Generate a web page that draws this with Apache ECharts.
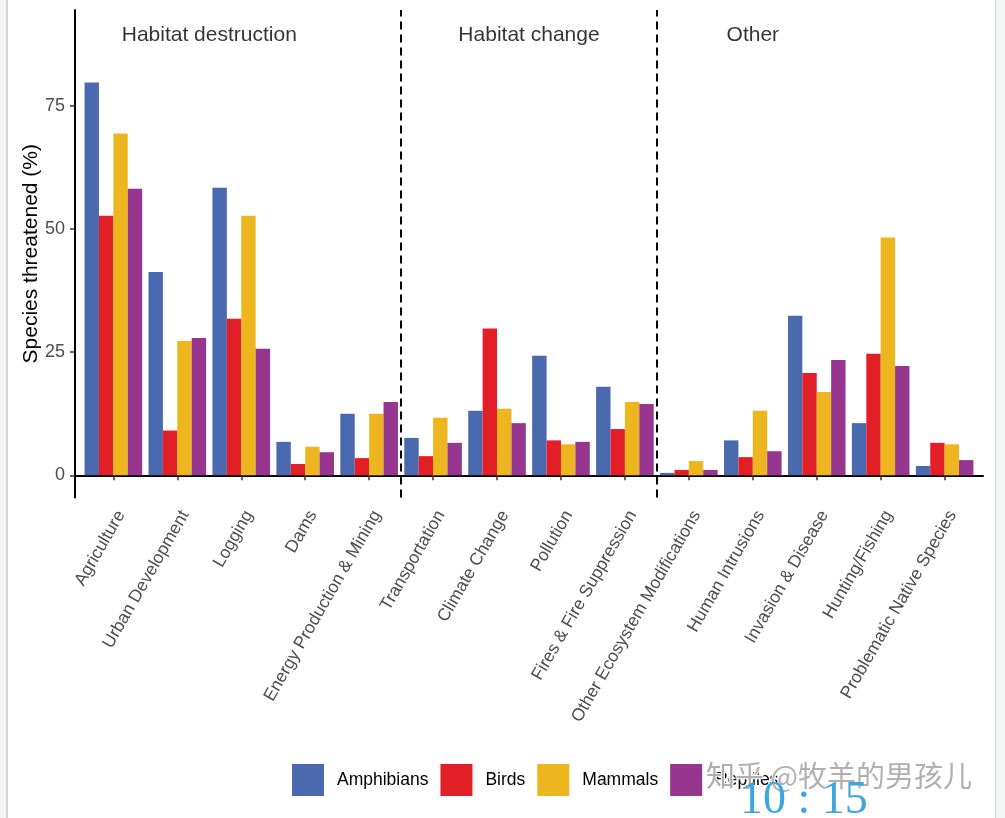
<!DOCTYPE html>
<html>
<head>
<meta charset="utf-8">
<script src="https://cdn.jsdelivr.net/npm/echarts@6/dist/echarts.min.js"></script>
<style>
html,body{margin:0;padding:0;background:#fff;}
#chart{width:1005px;height:818px;}
</style>
</head>
<body>
<div id="chart"></div>
<script>
const categories = ["Agriculture","Urban Development","Logging","Dams","Energy Production & Mining",
  "Transportation","Climate Change","Pollution","Fires & Fire Suppression",
  "Other Ecosystem Modifications","Human Intrusions","Invasion & Disease","Hunting/Fishing","Problematic Native Species"];
const amphibians = [79.8, 41.3, 58.4, 6.8, 12.5, 7.6, 13.1, 24.3, 18.0, 0.5, 7.1, 32.4, 10.6, 1.9];
const birds      = [52.7,  9.1, 31.8, 2.3,  3.5, 3.9, 29.8,  7.1,  9.4, 1.1, 3.7, 20.8, 24.7, 6.6];
const mammals    = [69.4, 27.3, 52.7, 5.8, 12.5, 11.7, 13.5, 6.3, 14.9, 2.9, 13.1, 16.9, 48.3, 6.3];
const reptiles   = [58.2, 27.9, 25.7, 4.7, 14.9, 6.6, 10.6,  6.8, 14.5, 1.1, 4.9, 23.4, 22.2, 3.1];
const seriesNames = ["Amphibians","Birds","Mammals","Reptiles"];
const colors = ["#4A69AE","#E21F26","#EDB61E","#96368F"];
const yTicks = [0, 25, 50, 75];
const sectionLabels = ["Habitat destruction","Habitat change","Other"];
const sectionX = [2.5, 7.5, 11];
const sectionY = 89.3;
const dividers = [5.5, 9.5];

const FONT = "Liberation Sans, Arial, sans-serif";
const chart = echarts.init(document.getElementById('chart'), null, {renderer:'canvas'});
const xPos = categories.map((c,i)=>i+1);

const barSeries = [amphibians, birds, mammals, reptiles].map((vals, k) => ({
  name: seriesNames[k],
  type: 'bar',
  data: vals.map((v,i)=>[i+1, v]),
  barWidth: 14.4,
  barGap: '0%',
  itemStyle: {color: colors[k]},
  silent: true
}));

const option = {
  animation: false,
  backgroundColor: '#fff',
  textStyle: {fontFamily: FONT},
  grid: {left: 75, right: 22, top: 10, bottom: 320.5, containLabel: false},
  legend: {
    data: seriesNames,
    left: 292, top: 764, padding: 0,
    itemWidth: 32, itemHeight: 32, itemGap: 12,
    icon: 'rect',
    textStyle: {fontSize: 17.5, color:'#000', fontFamily: FONT, padding:[6,0,0,8]}
  },
  xAxis: {
    type: 'value', min: 0.4, max: 14.6,
    axisLine: {show:true, lineStyle:{color:'#000', width:2}},
    axisTick: {show:true, customValues: xPos, length:5, lineStyle:{color:'#333', width:1.5}},
    axisLabel: {customValues: xPos, rotate: 60, margin: 10, fontSize: 17.5, color:'#4D4D4D', fontFamily: FONT,
      verticalAlign: 'top',
      formatter: v => categories[Math.round(v)-1] || ''},
    splitLine: {show:false}
  },
  yAxis: {
    type: 'value', min: -4.5, max: 94.5,
    name: 'Species threatened (%)', nameLocation: 'middle', nameGap: 33, nameRotate: 90,
    nameMoveOverlap: false,
    nameTextStyle: {fontSize: 21, color:'#000', fontFamily: FONT},
    axisLine: {show:true, lineStyle:{color:'#000', width:2}},
    axisTick: {show:true, customValues: yTicks, length:5, lineStyle:{color:'#333', width:1.5}},
    axisLabel: {customValues: yTicks, margin: 10, fontSize: 18, color:'#4D4D4D', fontFamily: FONT},
    splitLine: {show:false}
  },
  series: barSeries.concat([{
    name: 'sections',
    type: 'scatter',
    silent: true,
    symbolSize: 0,
    itemStyle: {color: 'transparent'},
    data: sectionLabels.map((t,i)=>({name:t, value:[sectionX[i], sectionY]})),
    label: {show:true, position:'inside', formatter: p => p.name, fontSize: 21, color:'#000',
      fontFamily: FONT, textBorderWidth: 0, textBorderColor: 'transparent'},
    markLine: {
      silent: true,
      symbol: ['none','none'],
      label: {show:false},
      lineStyle: {color:'#000', type:[8,5], width:2},
      data: dividers.map(d => ({xAxis: d}))
    }
  }]),
  graphic: [
    {type:'rect', shape:{x:0,y:0,width:6,height:818}, style:{fill:'#f4f5f5'}, z:-10, silent:true},
    {type:'rect', shape:{x:6,y:0,width:2,height:818}, style:{fill:'#d4d4d4'}, z:-10, silent:true},
    {type:'rect', shape:{x:995,y:0,width:1.5,height:818}, style:{fill:'#dcdcdc'}, z:-10, silent:true},
    {type:'rect', shape:{x:996.5,y:0,width:9,height:818}, style:{fill:'#f5f6f6'}, z:-10, silent:true},
    {type:'text', left: 705, top: 760, z: 100, silent:true,
      style:{text:'知乎 @牧羊的男孩儿', font:'29px "Noto Sans CJK SC", sans-serif', fill:'#b0b0b0', stroke:'#ffffff', lineWidth:2}},
    {type:'text', left: 740, top: 778, z: 101, silent:true,
      style:{text:'10 : 15', font:'46px "Liberation Serif", serif', fill:'#3DA6DF'}}
  ]
};
chart.setOption(option);
</script>
</body>
</html>
